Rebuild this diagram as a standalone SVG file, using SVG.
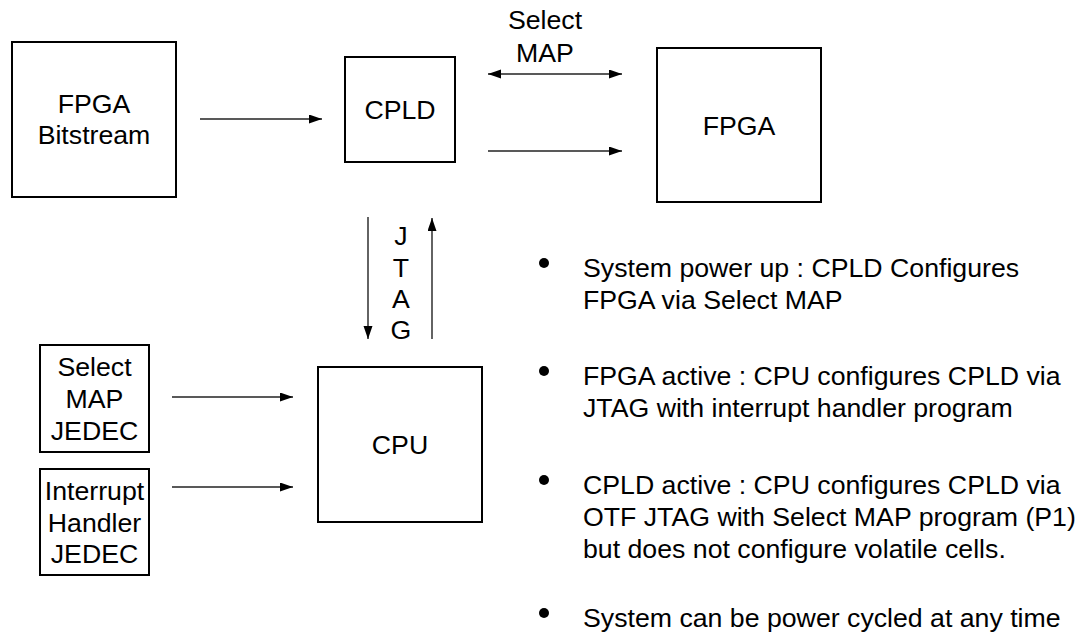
<svg xmlns="http://www.w3.org/2000/svg" width="1080" height="636" viewBox="0 0 1080 636">
<style>
.box{fill:#fff;stroke:#000;stroke-width:2}
.t{font-family:"Liberation Sans",Arial,sans-serif;font-size:26.7px;fill:#000}
.c{text-anchor:middle}
.ln{stroke:#222;stroke-width:1.4;fill:none}
</style>
<defs>
<marker id="ah" markerUnits="userSpaceOnUse" markerWidth="14" markerHeight="10" refX="13" refY="4.5" orient="auto-start-reverse">
<path d="M0,0 L13,4.5 L0,9 z" fill="#000"/>
</marker>
</defs>
<rect width="1080" height="636" fill="#fff"/>
<g id="connectors">
<line class="ln" x1="200" y1="119" x2="322" y2="119" marker-end="url(#ah)"/>
<line class="ln" x1="488" y1="74" x2="622" y2="74" marker-start="url(#ah)" marker-end="url(#ah)"/>
<line class="ln" x1="488" y1="151" x2="622" y2="151" marker-end="url(#ah)"/>
<line class="ln" x1="368" y1="217" x2="368" y2="339" marker-end="url(#ah)"/>
<line class="ln" x1="432" y1="339" x2="432" y2="218" marker-end="url(#ah)"/>
<line class="ln" x1="172" y1="397" x2="293" y2="397" marker-end="url(#ah)"/>
<line class="ln" x1="172" y1="487" x2="293" y2="487" marker-end="url(#ah)"/>
</g>
<g id="select-map-label">
<text class="t c" x="545" y="29">Select</text>
<text class="t c" x="545" y="62">MAP</text>
</g>
<g id="jtag-label">
<text class="t c" x="401" y="245">J</text>
<text class="t c" x="401" y="277">T</text>
<text class="t c" x="401" y="308">A</text>
<text class="t c" x="401" y="339">G</text>
</g>
<g id="fpga-bitstream">
<rect class="box" x="12" y="42" width="164" height="155"/>
<text class="t c" x="94" y="113">FPGA</text>
<text class="t c" x="94" y="144">Bitstream</text>
</g>
<g id="cpld">
<rect class="box" x="345" y="57" width="110" height="105"/>
<text class="t c" x="400" y="119">CPLD</text>
</g>
<g id="fpga">
<rect class="box" x="657" y="48" width="164" height="154"/>
<text class="t c" x="739" y="135">FPGA</text>
</g>
<g id="cpu">
<rect class="box" x="318" y="367" width="164" height="155"/>
<text class="t c" x="400" y="454">CPU</text>
</g>
<g id="selectmap-jedec">
<rect class="box" x="40" y="345" width="109" height="107"/>
<text class="t c" x="94.5" y="376">Select</text>
<text class="t c" x="94.5" y="408">MAP</text>
<text class="t c" x="94.5" y="440">JEDEC</text>
</g>
<g id="interrupt-jedec">
<rect class="box" x="40" y="469" width="109" height="106"/>
<text class="t c" x="94.5" y="500">Interrupt</text>
<text class="t c" x="94.5" y="532">Handler</text>
<text class="t c" x="94.5" y="563">JEDEC</text>
</g>
<g id="bullets">
<circle cx="544" cy="263" r="5"/>
<text class="t" x="583" y="277">System power up : CPLD Configures</text>
<text class="t" x="583" y="309">FPGA via Select MAP</text>
<circle cx="544" cy="371" r="5"/>
<text class="t" x="583" y="385">FPGA active : CPU configures CPLD via</text>
<text class="t" x="583" y="417">JTAG with interrupt handler program</text>
<circle cx="544" cy="480" r="5"/>
<text class="t" x="583" y="494">CPLD active : CPU configures CPLD via</text>
<text class="t" x="583" y="526">OTF JTAG with Select MAP program (P1)</text>
<text class="t" x="583" y="558">but does not configure volatile cells.</text>
<circle cx="544" cy="613" r="5"/>
<text class="t" x="583" y="627">System can be power cycled at any time</text>
</g>
</svg>
